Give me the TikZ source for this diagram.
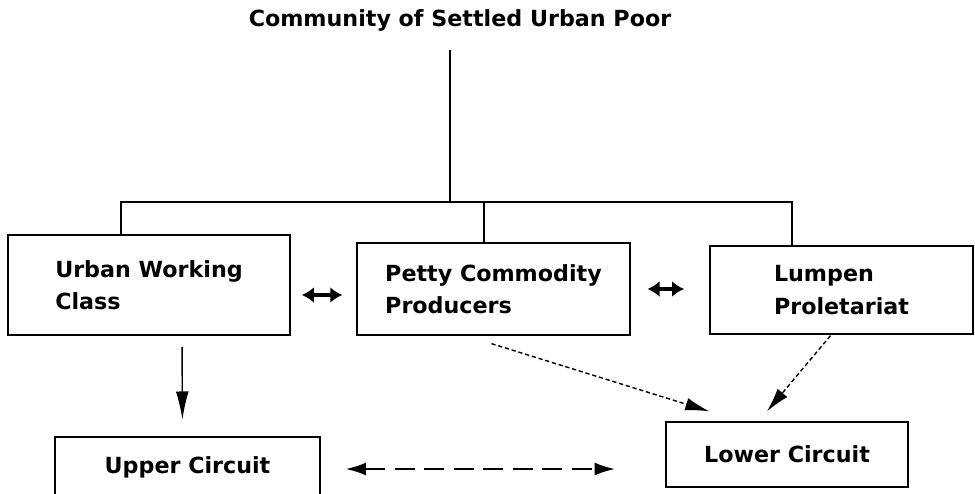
\documentclass[tikz,border=0pt]{standalone}
\usepackage{fontspec}
\setmainfont{DejaVu Sans}
\usetikzlibrary{calc,arrows.meta}

\begin{document}
\begin{tikzpicture}[x=0.025cm, y=-0.025cm,
		box/.style={draw, line width=0.9pt, align=left, inner sep=0pt, font=\fontsize{15.8}{23}\selectfont\bfseries},
		tree/.style={line width=0.8pt},
		duo/.style={line width=3pt, {Latex[length=3mm,width=4mm]}-{Latex[length=3mm,width=4mm]}},
		flow/.style={line width=1pt, densely dashed, -{Latex[length=6mm,width=3.2mm]}}]
			%%%%% START %%%%%
			
			\clip (0, 0) rectangle (975, 494);
			
			\node[font=\fontsize{15.8}{18}\selectfont\bfseries] (title) at (460, 20) {Community of Settled Urban Poor};
			
			\node[box, minimum width=7.05cm, minimum height=2.5cm] (uwc) at (149, 285) {Urban Working\\Class};
			\node[box, minimum width=6.825cm, minimum height=2.3cm] (pcp) at (493.5, 289) {Petty Commodity\\Producers};
			\node[box, minimum width=6.575cm, minimum height=2.2cm] (lp) at (841.5, 290) {Lumpen\\Proletariat};
			
			\node[box, minimum width=6.625cm, minimum height=1.5cm] (upper) at (187.5, 467) {Upper Circuit};
			\node[box, minimum width=6.05cm, minimum height=1.625cm] (lower) at (787, 454.5) {Lower Circuit};
			
			% the tree
			\coordinate (jn) at (450, 202);
			\coordinate (bl) at (121, 202);
			\coordinate (bm) at (484, 202);
			\coordinate (br) at (792, 202);
			\draw[tree] (title.south -| jn) ++(0, 14) -- (jn);
			\draw[tree] (bl |- uwc.north) -- (bl) -- (br) -- (br |- lp.north);
			\draw[tree] (bm) -- (bm |- pcp.north);
			
			% arrows
			\draw[duo, shorten <=8, shorten >=10] ($(uwc.east |- pcp.west)+(0, 6)$) -- ($(pcp.west)+(0, 6)$);
			\draw[duo, shorten <=12, shorten >=18] (pcp.east) -- (lp.west |- pcp.east);
			
			\draw[line width=1pt, -{Latex[length=7mm,width=3.2mm]}, shorten <=8, shorten >=12] ($(uwc.south)+(33, 0)$) -- ($(upper.north)+(-5, 0)$);
			\draw[flow] ($(pcp.south)+(-2, 8)$) -- ($(lower.north west)+(44, -10)$);
			\draw[flow] ($(lp.south)+(-11, 1)$) -- ($(lower.north)+(-20, -10)$);
			
			\draw[line width=1pt, dash pattern=on 14pt off 7pt, {Latex[length=5mm,width=3.2mm]}-{Latex[length=5mm,width=3.2mm]}, shorten <=18, shorten >=36] (upper.east |- 0, 469) -- (lower.west |- 0, 469);
			
			%%%%% END %%%%%
		\end{tikzpicture}
\end{document}
